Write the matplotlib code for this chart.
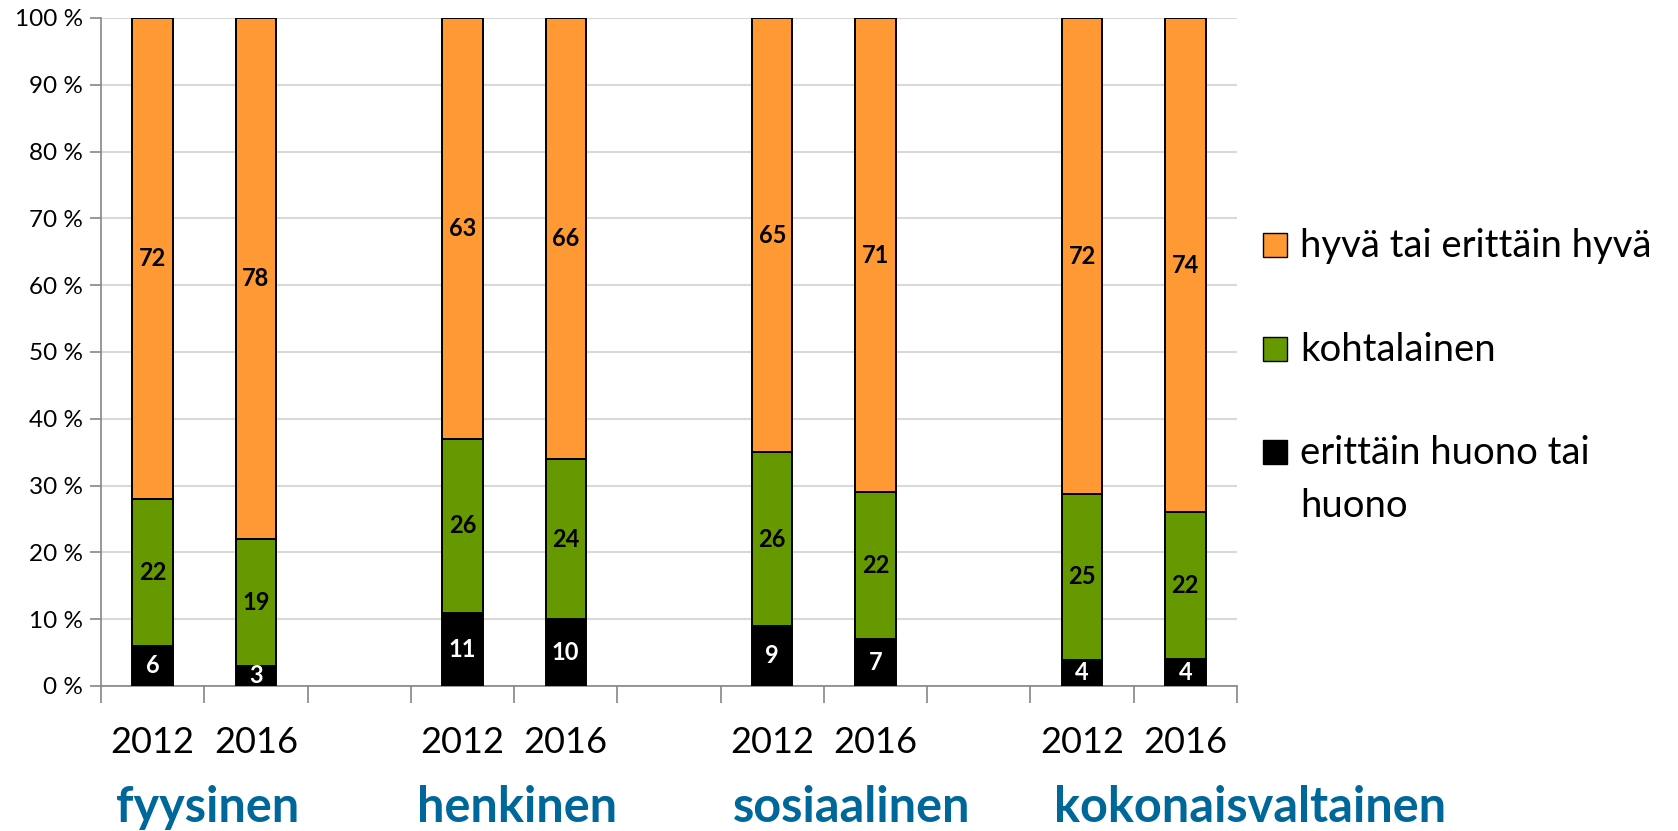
import numpy as np
import matplotlib.pyplot as plt
from matplotlib.patches import Rectangle

plt.rcParams["font.family"] = ["Lato", "DejaVu Sans"]

# data
groups = ["fyysinen", "henkinen", "sosiaalinen", "kokonaisvaltainen"]
years = ["2012", "2016"]
series = ["erittäin huono tai\nhuono", "kohtalainen", "hyvä tai erittäin hyvä"]
huono = [6, 3, 11, 10, 9, 7, 4, 4]
kohtalainen = [22, 19, 26, 24, 26, 22, 25, 22]
hyva = [72, 78, 63, 66, 65, 71, 72, 74]

COLORS = ["#000000", "#669900", "#FF9933"]
LABEL_COLORS = ["white", "black", "black"]
GROUP_COLOR = "#00679A"
W, H = 1678, 831

raw = np.array([huono, kohtalainen, hyva], dtype=float)
pct = raw / raw.sum(axis=0) * 100  # 100 % stacked

# bar slots: two bars per group, one empty slot between groups
xs = np.array([g * 3 + i for g in range(len(groups)) for i in range(2)], dtype=float)

fig = plt.figure(figsize=(W / 100, H / 100), dpi=100)
ax = fig.add_axes([101 / W, 1 - 686 / H, 1136 / W, 668 / H])

bottom = np.zeros(len(xs))
for k in range(3):
    ax.bar(xs, pct[k], 0.39, bottom=bottom, color=COLORS[k],
           edgecolor="black", linewidth=1.4, zorder=3, label=series[k])
    for x, b0, h, v in zip(xs, bottom, pct[k], raw[k]):
        ax.text(x, b0 + h / 2, f"{int(v)}", ha="center", va="center",
                fontsize=17, fontweight="bold", color=LABEL_COLORS[k], zorder=4)
    bottom += pct[k]

ax.set_xlim(-0.5, 10.5)
ax.set_ylim(0, 100)
ax.set_yticks(np.arange(0, 101, 10))
ax.set_yticklabels([f"{v} %" for v in range(0, 101, 10)], fontsize=17.5)
ax.yaxis.grid(True, color="#D9D9D9", linewidth=1.5, zorder=0)
ax.tick_params(axis="y", length=8, width=1.2, color="#868686", pad=5)

ax.set_xticks(np.arange(-0.5, 11, 1))
ax.set_xticklabels([])
ax.tick_params(axis="x", length=12, width=1.2, color="#868686")

for s in ["top", "right"]:
    ax.spines[s].set_visible(False)
for s in ["left", "bottom"]:
    ax.spines[s].set_color("#868686")
    ax.spines[s].set_linewidth(1.2)

# year labels under each bar
for i, x in enumerate(xs):
    ax.text(x, -8.4, years[i % 2], ha="center", va="center", fontsize=26,
            clip_on=False)

# group labels
group_x = [208, 517, 852, 1250]
for gx, name in zip(group_x, groups):
    fig.text(gx / W, 1 - 807 / H, name, ha="center", va="center",
             fontsize=35, fontweight="bold", color=GROUP_COLOR)

# legend, drawn by hand so the square sits on the first line
leg_y = [245, 349, 452]
for k, y in zip([2, 1, 0], leg_y):
    fig.patches.append(Rectangle((1263 / W, 1 - (y + 12) / H), 24 / W, 24 / H,
                                 transform=fig.transFigure, facecolor=COLORS[k],
                                 edgecolor="black", linewidth=1.0))
    for j, line in enumerate(series[k].split("\n")):
        fig.text(1300 / W, 1 - (y + 12 + 53 * j) / H, line, ha="left",
                 va="baseline", fontsize=27.5)

fig.savefig("out.png", dpi=100)
